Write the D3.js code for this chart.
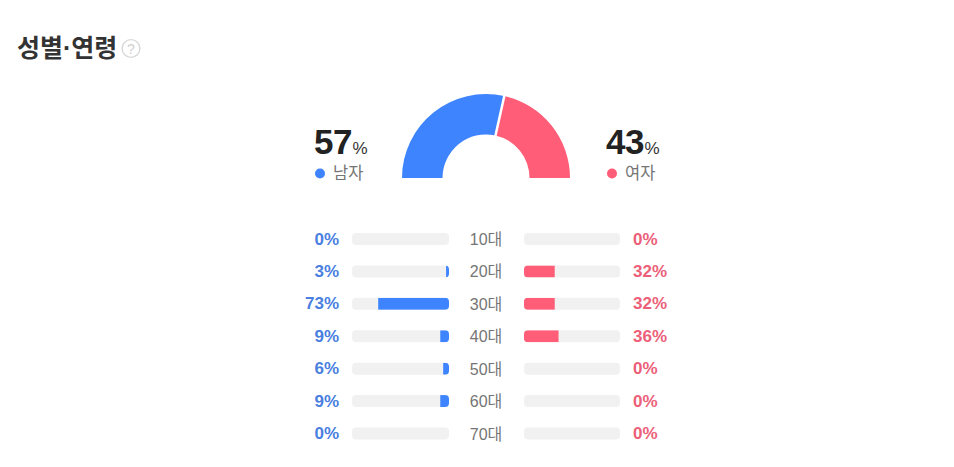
<!DOCTYPE html>
<html>
<head>
<meta charset="utf-8">
<script src="https://cdn.jsdelivr.net/npm/d3@7"></script>
<style>
html, body { margin: 0; padding: 0; background: #fff; }
svg { display: block; }
text { font-family: "Liberation Sans", Arial, "Noto Sans CJK KR", sans-serif; }
</style>
</head>
<body>
<svg id="chart" width="954" height="467"></svg>
<script>
// values
const genderLabels = ["남자", "여자"];
const genderValues = [57, 43];
const ageLabels = ["10대", "20대", "30대", "40대", "50대", "60대", "70대"];
const maleValues = [0, 3, 73, 9, 6, 9, 0];
const femaleValues = [0, 32, 32, 36, 0, 0, 0];

const blue = "#3e84ff";
const pink = "#ff5d78";
const blueText = "#4a7fe0";
const pinkText = "#ec5f79";
const grey = "#757575";
const track = "#f1f1f2";

const svg = d3.select("#chart");

// title
svg.append("text").attr("x", 17).attr("y", 57)
    .attr("font-size", 25).attr("font-weight", 700).attr("fill", "#333")
    .text("성별·연령");

// help icon
svg.append("circle").attr("cx", 131).attr("cy", 48.5).attr("r", 8.9)
    .attr("fill", "#fff").attr("stroke", "#d8d8d8").attr("stroke-width", 1.4);
svg.append("text").attr("x", 131).attr("y", 53.5).attr("text-anchor", "middle")
    .attr("font-size", 14).attr("fill", "#cfcfcf").text("?");

// half donut
const pie = d3.pie().sort(null).startAngle(-Math.PI / 2).endAngle(Math.PI / 2);
const arc = d3.arc().innerRadius(43.5).outerRadius(84);
const donut = svg.append("g").attr("transform", "translate(486,178)");
donut.selectAll("path")
    .data(pie(genderValues))
    .join("path")
    .attr("d", arc)
    .attr("fill", (d, i) => i == 0 ? blue : pink);
// white gap between the two slices
const gapAngle = pie(genderValues)[0].endAngle;
donut.append("line")
    .attr("x1", 43 * Math.sin(gapAngle)).attr("y1", -43 * Math.cos(gapAngle))
    .attr("x2", 85 * Math.sin(gapAngle)).attr("y2", -85 * Math.cos(gapAngle))
    .attr("stroke", "#fff").attr("stroke-width", 2.5);

// big numbers + legend
const summaryX = [314, 606];
genderValues.forEach((v, i) => {
    const big = svg.append("text").attr("x", summaryX[i]).attr("y", 154).attr("fill", "#222");
    big.append("tspan").attr("font-size", 35).attr("font-weight", 700).attr("letter-spacing", -0.5).text(v);
    big.append("tspan").attr("font-size", 17).attr("dx", 0.5).attr("fill", "#333").text("%");
    svg.append("circle").attr("cx", summaryX[i] + 6).attr("cy", 173.5).attr("r", 5)
        .attr("fill", i == 0 ? blue : pink);
    svg.append("text").attr("x", summaryX[i] + 19).attr("y", 179)
        .attr("font-size", 16.5).attr("fill", grey).text(genderLabels[i]);
});

// age rows
const rowY = d3.scalePoint().domain(ageLabels).range([239, 433.5]);
const maleX = d3.scaleLinear().domain([100, 0]).range([352, 449]);
const femaleX = d3.scaleLinear().domain([0, 100]).range([524, 620]);
const barH = 12;

// clip so the bars take the rounded corners of their track
function clipTrack(id, x0, x1) {
    svg.append("clipPath").attr("id", id)
        .selectAll("rect").data(ageLabels).join("rect")
        .attr("x", x0).attr("y", d => rowY(d) - barH / 2)
        .attr("width", x1 - x0).attr("height", barH).attr("rx", 4);
}
clipTrack("clipMale", maleX(100), maleX(0));
clipTrack("clipFemale", femaleX(0), femaleX(100));

svg.append("g").selectAll("rect").data(ageLabels).join("rect")
    .attr("x", maleX(100)).attr("y", d => rowY(d) - barH / 2)
    .attr("width", maleX(0) - maleX(100)).attr("height", barH).attr("rx", 4).attr("fill", track);
svg.append("g").selectAll("rect").data(ageLabels).join("rect")
    .attr("x", femaleX(0)).attr("y", d => rowY(d) - barH / 2)
    .attr("width", femaleX(100) - femaleX(0)).attr("height", barH).attr("rx", 4).attr("fill", track);

svg.append("g").attr("clip-path", "url(#clipMale)")
    .selectAll("rect").data(maleValues).join("rect")
    .attr("x", d => maleX(d)).attr("y", (d, i) => rowY(ageLabels[i]) - barH / 2)
    .attr("width", d => maleX(0) - maleX(d)).attr("height", barH).attr("fill", blue);
svg.append("g").attr("clip-path", "url(#clipFemale)")
    .selectAll("rect").data(femaleValues).join("rect")
    .attr("x", femaleX(0)).attr("y", (d, i) => rowY(ageLabels[i]) - barH / 2)
    .attr("width", d => femaleX(d) - femaleX(0)).attr("height", barH).attr("fill", pink);

// row texts
svg.append("g").selectAll("text").data(maleValues).join("text")
    .attr("x", 339).attr("y", (d, i) => rowY(ageLabels[i]) + 5.5)
    .attr("text-anchor", "end").attr("font-size", 17).attr("font-weight", 700)
    .attr("fill", blueText).text(d => d + "%");
svg.append("g").selectAll("text").data(femaleValues).join("text")
    .attr("x", 633).attr("y", (d, i) => rowY(ageLabels[i]) + 5.5)
    .attr("font-size", 17).attr("font-weight", 700)
    .attr("fill", pinkText).text(d => d + "%");
svg.append("g").selectAll("text").data(ageLabels).join("text")
    .attr("x", 486).attr("y", d => rowY(d) + 6)
    .attr("text-anchor", "middle").attr("font-size", 16)
    .attr("fill", grey).text(d => d);
</script>
</body>
</html>
